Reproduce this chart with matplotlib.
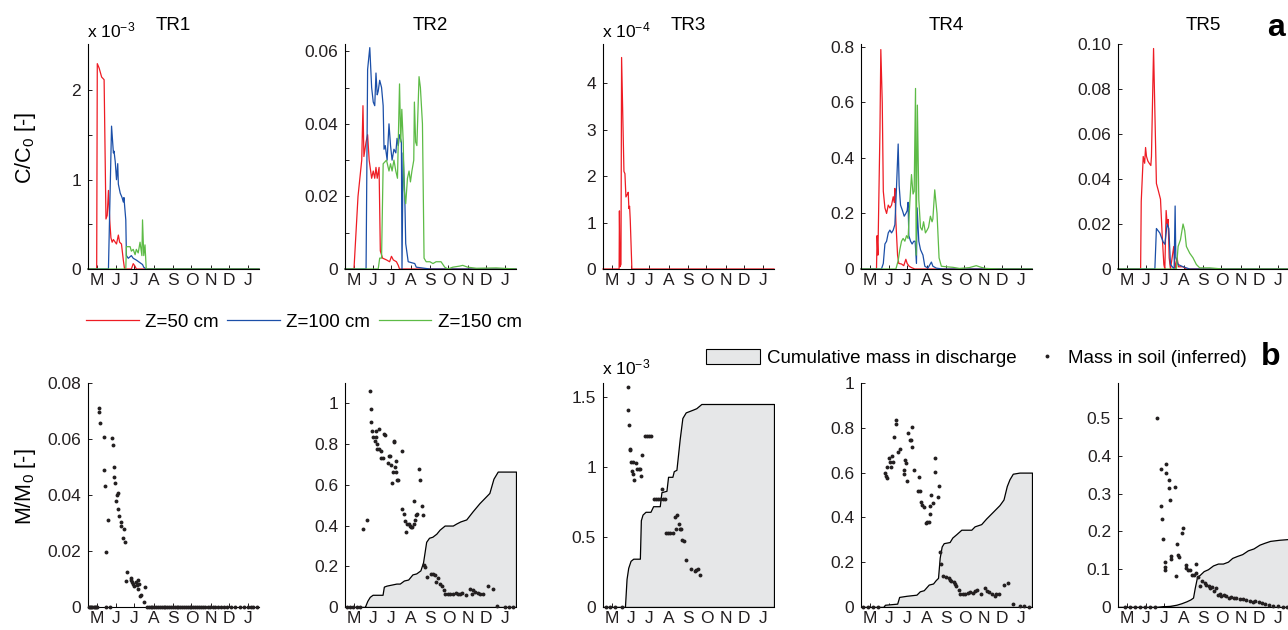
import matplotlib
matplotlib.use("Agg")
import matplotlib.pyplot as plt
from matplotlib.lines import Line2D
from matplotlib.patches import Patch

plt.rcParams['font.family'] = ['Liberation Sans', 'DejaVu Sans']
plt.rcParams['mathtext.fontset'] = 'custom'
plt.rcParams['mathtext.rm'] = 'Liberation Sans'
plt.rcParams['mathtext.it'] = 'Liberation Sans:italic'

# x axis: days since 1 May, labels on the 15th of each month
month_days = [14, 45, 75, 106, 137, 167, 198, 228, 259]
month_labels = ['M', 'J', 'J', 'A', 'S', 'O', 'N', 'D', 'J']
panel_names = ['TR1', 'TR2', 'TR3', 'TR4', 'TR5']
depth_labels = ['Z=50 cm', 'Z=100 cm', 'Z=150 cm']

# ---- row a: C/C0 breakthrough, (day, value) pairs ----
# TR1 in units of 1e-3
tr1_red = [(0, 0), (14, 0), (15, 2.3), (18, 2.25), (22, 2.15), (26, 2.12), (29, 0.56), (31, 0.6),
           (33, 0.88), (35, 0.55), (37, 0.35), (39, 0.3), (41, 0.33), (44, 0.3), (46, 0.28),
           (49, 0.38), (51, 0.3), (54, 0.28), (57, 0.1), (59, 0), (70, 0), (73, 0.06), (76, 0.03),
           (78, 0), (276, 0)]
tr1_blue = [(0, 0), (33, 0), (38, 1.6), (41, 1.3), (42, 1.32), (44, 1.2), (46, 1.0), (48, 1.18),
            (49, 0.95), (52, 0.85), (55, 0.8), (57, 0.75), (58, 0.8), (61, 0.55), (62, 0.15),
            (65, 0.12), (70, 0.15), (73, 0.12), (78, 0.1), (84, 0.07), (88, 0.05), (90, 0.02),
            (94, 0), (276, 0)]
tr1_green = [(0, 0), (61, 0), (62, 0.25), (68, 0.25), (70, 0.2), (73, 0.22), (76, 0.16), (78, 0.22),
             (81, 0.18), (84, 0.3), (87, 0.15), (88, 0.55), (90, 0.15), (92, 0.27), (94, 0), (276, 0)]

tr2_red = [(0, 0), (14.5, 0), (21, 0.02), (27, 0.03), (29, 0.045), (30.5, 0.031), (34, 0.035),
           (36.5, 0.037), (39, 0.03), (43, 0.025), (45.6, 0.027), (48, 0.025), (50, 0.028),
           (52, 0.025), (55, 0.028), (57, 0.005), (60.6, 0.003), (67, 0.0025), (72, 0.002),
           (75, 0.0035), (78, 0.0025), (83, 0.002), (86, 0.001), (88, 0), (276, 0)]
tr2_blue = [(0, 0), (34, 0), (36.5, 0.055), (40, 0.061), (43, 0.05), (45.6, 0.046), (48, 0.045),
            (50, 0.054), (52, 0.048), (53.6, 0.049), (56, 0.052), (59, 0.05), (61.6, 0.045),
            (63, 0.033), (65, 0.034), (68, 0.03), (71, 0.04), (73.5, 0.034), (76, 0.03), (79, 0.033),
            (82, 0.032), (84, 0.036), (86, 0.034), (88, 0.037), (91, 0.035), (92, 0.0), (93.8, 0.032),
            (96.5, 0.02), (98, 0.007), (102, 0.002), (112.6, 0.0015), (115, 0.0005), (137, 0), (276, 0)]
tr2_green = [(0, 0), (53.6, 0), (56, 0.003), (59, 0.003), (61.6, 0.029), (67, 0.03), (71, 0.027),
             (73.5, 0.029), (76, 0.027), (79, 0.03), (82, 0.027), (84.7, 0.025), (88, 0.051),
             (90, 0.035), (91.7, 0.044), (94, 0.035), (95.4, 0.022), (98, 0.018), (100.8, 0.025),
             (103.4, 0.027), (105.6, 0.024), (108, 0.027), (111, 0.03), (112, 0.046), (114, 0.035),
             (116, 0.034), (119.5, 0.053), (121.7, 0.05), (125, 0.04), (127.6, 0.003), (131, 0.002),
             (137, 0.002), (142, 0.0015), (147, 0.002), (155, 0.002), (161, 0.0005), (166, 0),
             (174, 0.0005), (185, 0.0008), (190, 0.001), (198, 0.0005), (212, 0.0002),
             (244, 0.0003), (276, 0)]

# TR3 in units of 1e-4
tr3_red = [(0, 0), (26, 0), (26.5, 1.25), (27.5, 0.05), (29, 0.1), (30, 4.55), (33.8, 2.1),
           (35.4, 2.05), (37, 1.55), (39, 1.6), (40.7, 1.65), (41.8, 1.3), (42.9, 1.35), (44, 1.05),
           (46.6, 0), (276, 0)]

tr4_red = [(0, 0), (25, 0), (26, 0.12), (27.3, 0.05), (30.6, 0.5), (32, 0.79), (34.3, 0.6),
           (36, 0.28), (38.6, 0.22), (41.3, 0.2), (44, 0.23), (46.6, 0.22), (49.3, 0.23), (52, 0.26),
           (53.6, 0.24), (54.7, 0.29), (56.3, 0.17), (59, 0.05), (61, 0.02), (65.4, 0.018),
           (69, 0.012), (72.4, 0.035), (74.5, 0.02), (77.7, 0.01), (81.5, 0.005), (86.8, 0), (276, 0)]
tr4_blue = [(0, 0), (33, 0), (36, 0.02), (38.6, 0.09), (41.3, 0.1), (44, 0.13), (46.6, 0.14),
            (49.3, 0.13), (52, 0.14), (54.7, 0.16), (57.4, 0.3), (60, 0.45), (61.6, 0.3),
            (63.8, 0.23), (67, 0.21), (69.7, 0.19), (72.4, 0.2), (74.5, 0.21), (76, 0.24),
            (77.2, 0.12), (80, 0.1), (82.5, 0.09), (85.2, 0.1), (87.4, 0.1), (89.5, 0.02),
            (90.6, 0.22), (93.3, 0.1), (96, 0.07), (100, 0.05), (103, 0.01), (108, 0.003),
            (113.6, 0.025), (116, 0.01), (121.7, 0.003), (132, 0), (276, 0)]
tr4_green = [(0, 0), (56.3, 0), (60, 0.03), (62.7, 0.07), (65.4, 0.1), (68, 0.11), (70.8, 0.1),
             (73.5, 0.12), (76, 0.11), (78.8, 0.24), (81.5, 0.34), (84, 0.27), (85.8, 0.28),
             (88, 0.65), (89, 0.05), (91, 0.59), (93.3, 0.25), (96, 0.15), (98.6, 0.14), (101, 0.17),
             (104, 0.13), (106.7, 0.14), (109, 0.15), (112, 0.19), (114.7, 0.17), (116, 0.18),
             (119, 0.285), (122.7, 0.2), (126, 0.04), (129.7, 0.01), (137.8, 0.008), (148.5, 0.006),
             (159, 0.002), (175, 0.005), (186, 0.012), (194, 0.006), (202, 0.002), (223.5, 0), (276, 0)]

tr5_red = [(0, 0), (36.5, 0), (37.5, 0.03), (40.7, 0.05), (43, 0.047), (44.5, 0.054), (46, 0.05),
           (48.2, 0.048), (50.4, 0.047), (53, 0.046), (54, 0.05), (57.4, 0.098), (59.5, 0.07),
           (62, 0.038), (64.9, 0.035), (68.6, 0.031), (71.3, 0.015), (74, 0.002), (75.6, 0),
           (77.7, 0.026), (79.3, 0.02), (81, 0.022), (82.6, 0.005), (84.7, 0), (90, 0.01),
           (92.2, 0), (95.4, 0.005), (97.6, 0.001), (105, 0.001), (110.4, 0), (276, 0)]
tr5_blue = [(0, 0), (59.5, 0), (62, 0.018), (67.5, 0.016), (72.9, 0.012), (75.6, 0.011),
            (79.3, 0.02), (82, 0.018), (84.7, 0.002), (90.6, 0), (92.2, 0.028), (93.3, 0.005),
            (97, 0.002), (105, 0.001), (115.8, 0), (276, 0)]
tr5_green = [(0, 0), (94.3, 0), (97, 0.01), (100.8, 0.013), (105, 0.02), (107.7, 0.017),
             (110.4, 0.01), (115.8, 0.007), (121, 0.005), (126.5, 0.002), (131.9, 0.0005),
             (148, 0.0005), (169, 0), (276, 0)]

# ---- row b: cumulative mass in discharge (fill) and mass in soil (dots) ----
cum_tr2 = [(0, 0), (32, 0), (36, 0.03), (40, 0.05), (44.5, 0.06), (60.6, 0.06), (62.7, 0.1),
           (67, 0.105), (75, 0.11), (83, 0.115), (88.4, 0.115), (95, 0.13), (102, 0.135),
           (108.8, 0.16), (115, 0.165), (121.7, 0.18), (126, 0.22), (131, 0.32), (135.6, 0.34),
           (141, 0.345), (147.4, 0.36), (152.8, 0.38), (160.8, 0.4), (174, 0.4), (179.6, 0.41),
           (186, 0.42), (195.7, 0.43), (206, 0.47), (217, 0.51), (233, 0.56), (239.6, 0.63),
           (246.5, 0.665), (276, 0.665)]
# TR3 in units of 1e-3
cum_tr3 = [(0, 0), (35.4, 0), (38, 0.2), (40.7, 0.28), (44.5, 0.33), (48.8, 0.345), (59.5, 0.345),
           (61.1, 0.62), (63.8, 0.66), (68.6, 0.68), (76.6, 0.68), (80.9, 0.72), (91.6, 0.72),
           (94.3, 0.82), (102.4, 0.83), (105, 0.93), (112, 0.93), (114.2, 0.97), (118.5, 0.98),
           (123.8, 1.2), (128.1, 1.35), (133.5, 1.39), (145.2, 1.41), (150.6, 1.42), (158.7, 1.45),
           (276, 1.45)]
cum_tr4 = [(0, 0), (36, 0), (38.6, 0.01), (46.6, 0.012), (58.4, 0.015), (61.6, 0.045), (73.5, 0.05),
           (89.5, 0.055), (94.9, 0.07), (101.3, 0.075), (109.3, 0.1), (116.3, 0.105), (120.6, 0.12),
           (124.3, 0.13), (127, 0.22), (130.2, 0.27), (133.5, 0.285), (143, 0.29), (147.4, 0.31),
           (153.8, 0.325), (161.9, 0.345), (178, 0.345), (183.3, 0.36), (194, 0.37), (202, 0.395),
           (212.8, 0.425), (223.5, 0.455), (230, 0.48), (235.3, 0.54), (239.6, 0.57), (245, 0.595),
           (255.7, 0.6), (276, 0.6)]
cum_tr5 = [(0, 0), (61.1, 0), (72.9, 0.002), (83.6, 0.003), (94.3, 0.006), (102.4, 0.01),
           (110.4, 0.015), (116.8, 0.02), (121.1, 0.025), (123.8, 0.05), (127.6, 0.08),
           (131.9, 0.085), (138.3, 0.095), (145.2, 0.1), (153.3, 0.11), (161.3, 0.115),
           (169.3, 0.115), (177.4, 0.12), (184.4, 0.13), (191.9, 0.135), (200.5, 0.14),
           (209.6, 0.15), (218.7, 0.155), (228.3, 0.165), (236.4, 0.17), (245.5, 0.175),
           (260.5, 0.178), (276, 0.18)]

soil_tr1 = [(1, 0), (3, 0), (5, 0), (7, 0), (9, 0), (11, 0), (13, 0), (15, 0), (17.7, 0.0711),
            (17.7, 0.0698), (19.8, 0.0656), (25.2, 0.0607), (25.7, 0.0489), (27.3, 0.0431),
            (28.9, 0.0195), (29, 0), (32.6, 0.0312), (35, 0), (39.1, 0.0604), (39.6, 0.0577),
            (42.3, 0.0499), (41.2, 0.0463), (43.4, 0.0443), (48.2, 0.0407), (47.1, 0.0399),
            (45.5, 0.0377), (48.8, 0.035), (50.4, 0.0324), (53.1, 0.0302), (53.6, 0.0288),
            (57.4, 0.0279), (56.3, 0.0248), (59.5, 0.0231), (62.2, 0.0124), (61.1, 0.0094),
            (68.6, 0.0102), (70.2, 0.0095), (71.8, 0.0088), (72.9, 0.0082), (75, 0.0076),
            (77.2, 0.0088), (79.3, 0.008), (81.5, 0.0098), (82.6, 0.0083), (80.9, 0.0064),
            (84.6, 0.004), (85.8, 0.0042), (92.2, 0.0071), (90.6, 0.0019), (95, 0), (98, 0),
            (101, 0), (104, 0), (107, 0), (110, 0), (113, 0), (116, 0), (119, 0), (122, 0),
            (125, 0), (128, 0), (131, 0), (134, 0), (137, 0), (140, 0), (143, 0), (146, 0),
            (149, 0), (152, 0), (155, 0), (158, 0), (161, 0), (164, 0), (167, 0), (170, 0),
            (173, 0), (176, 0), (179, 0), (182, 0), (185, 0), (189, 0), (193, 0), (197, 0),
            (201, 0), (205, 0), (210, 0), (215, 0), (220, 0), (225, 0), (231, 0), (237, 0),
            (245, 0), (252, 0), (259, 0), (263, 0), (267, 0), (272, 0)]
soil_tr2 = [(2.7, 0), (8, 0), (13.4, 0), (18.8, 0), (24, 0), (29.5, 0.382), (34.8, 0.426),
            (40.2, 1.062), (41.3, 0.972), (42.3, 0.91), (43.4, 0.866), (45.6, 0.836), (47.7, 0.816),
            (49.3, 0.862), (49.8, 0.836), (51.5, 0.8), (52, 0.775), (54.1, 0.774), (55.2, 0.872),
            (57.4, 0.766), (58.4, 0.73), (61.1, 0.73), (62.7, 0.852), (63.8, 0.844), (69.7, 0.708),
            (71.3, 0.741), (73.4, 0.741), (74.5, 0.697), (76.1, 0.61), (77.2, 0.662), (78.3, 0.81),
            (79.3, 0.813), (82, 0.715), (81.5, 0.689), (83.1, 0.662), (84.2, 0.623), (86.3, 0.623),
            (92.7, 0.764), (92.7, 0.479), (95.9, 0.456), (97, 0.42), (98, 0.369), (100.2, 0.407),
            (102.9, 0.41), (104.5, 0.397), (106.7, 0.393), (108.8, 0.393), (111, 0.407),
            (112, 0.52), (113, 0.426), (114.2, 0.454), (116.3, 0.459), (119.5, 0.677),
            (120.6, 0.623), (123.8, 0.498), (126, 0.452), (127, 0.208), (129.7, 0.197),
            (132.4, 0.148), (139.4, 0.164), (142, 0.161), (145.8, 0.159), (147.4, 0.125),
            (150.6, 0.144), (153.8, 0.115), (157, 0.102), (159.7, 0.082), (161.3, 0.066),
            (166.1, 0.066), (169.9, 0.066), (174.2, 0.066), (178.5, 0.069), (182.2, 0.062),
            (186, 0.066), (189.2, 0.07), (195.6, 0.057), (201, 0.09), (205.3, 0.066),
            (207.4, 0.085), (210.6, 0.074), (214.4, 0.069), (218.7, 0.066), (223.5, 0.062),
            (231.6, 0.102), (238.5, 0.087), (245.5, 0.005), (258.9, 0), (265.3, 0), (271.8, 0)]
# TR3 in units of 1e-3
soil_tr3 = [(5, 0), (12, 0), (20, 0), (30, 0), (40.7, 1.573), (40.7, 1.408), (41.8, 1.298),
            (42.9, 1.131), (43.4, 1.119), (45.5, 1.038), (47.2, 0.971), (48.8, 0.947),
            (49.8, 0.907), (48.2, 1.036), (53, 1.031), (55.2, 0.983), (57.4, 0.983), (60.1, 0.983),
            (61.1, 0.936), (62.2, 1.084), (68.1, 1.222), (71.3, 1.222), (74.5, 1.222),
            (77.8, 1.222), (82, 0.768), (85.2, 0.768), (88.4, 0.768), (92.7, 0.768), (95.9, 0.84),
            (97, 0.768), (100.2, 0.768), (102.4, 0.53), (105.6, 0.53), (108.8, 0.53),
            (113.1, 0.53), (115.8, 0.642), (119.5, 0.656), (118.5, 0.554), (122.2, 0.594),
            (123.8, 0.554), (126, 0.558), (128.1, 0.482), (130.2, 0.475), (133.5, 0.339),
            (141.5, 0.272), (147.9, 0.255), (150.6, 0.267), (153.8, 0.272), (156, 0.227)]
soil_tr4 = [(3.8, 0), (11.7, 0), (19.8, 0), (27.9, 0), (39.1, 0.597), (39.7, 0.585), (41.3, 0.578),
            (42.3, 0.627), (45.5, 0.664), (46.6, 0.649), (47.7, 0.627), (49.3, 0.675), (52, 0.649),
            (53.6, 0.761), (55.7, 0.836), (56.8, 0.818), (60, 0.69), (62.7, 0.704), (69.1, 0.612),
            (69.7, 0.593), (71.3, 0.657), (73.4, 0.642), (74.5, 0.564), (76.1, 0.776),
            (78.8, 0.746), (80.9, 0.746), (82, 0.803), (83.1, 0.716), (85.2, 0.612), (93.8, 0.579),
            (92.2, 0.519), (96, 0.519), (97.6, 0.47), (98.6, 0.454), (101.3, 0.448),
            (104.5, 0.376), (107.2, 0.381), (109.9, 0.379), (111.5, 0.413), (112, 0.451),
            (113.6, 0.5), (116.3, 0.466), (119, 0.664), (120, 0.604), (124.3, 0.493),
            (125.4, 0.542), (128.1, 0.246), (129.7, 0.19), (132.4, 0.139), (137.8, 0.134),
            (141.5, 0.131), (144.2, 0.122), (145.8, 0.116), (149.5, 0.112), (151.7, 0.101),
            (153.8, 0.093), (158.1, 0.075), (160.3, 0.057), (164.5, 0.06), (168.3, 0.06),
            (172.6, 0.064), (176.4, 0.067), (180.6, 0.064), (183.8, 0.072), (187, 0.078),
            (194, 0.06), (199.4, 0.087), (203.1, 0.072), (207.4, 0.067), (211.7, 0.06),
            (215.5, 0.048), (218.1, 0.06), (222.4, 0.057), (230, 0.097), (236.9, 0.109),
            (245, 0.012), (256.7, 0.005), (263.7, 0.003), (270.7, 0.002)]
soil_tr5 = [(11.3, 0), (19.3, 0), (27.3, 0), (35.4, 0), (43.4, 0), (51.5, 0), (59.5, 0),
            (63.3, 0.5), (69.1, 0.365), (70.2, 0.267), (71.3, 0.233), (72.4, 0.181), (75.6, 0.119),
            (76.6, 0.099), (76.6, 0.106), (78.2, 0.378), (78.2, 0.354), (82.6, 0.335),
            (82.6, 0.314), (84.7, 0.283), (86.3, 0.135), (86.3, 0.126), (91.6, 0.319),
            (93.3, 0.081), (96, 0.168), (97, 0.137), (98.6, 0.133), (103.4, 0.196), (105, 0.21),
            (109.3, 0.112), (110.4, 0.102), (113.1, 0.099), (115.8, 0.097), (120, 0.084),
            (122.7, 0.084), (126.5, 0.09), (125.4, 0.115), (129.2, 0.08), (131.9, 0.055),
            (136.1, 0.068), (139.9, 0.064), (142.6, 0.059), (146.9, 0.055), (149, 0.049),
            (152.2, 0.053), (154.4, 0.042), (157.6, 0.049), (161.3, 0.031), (164, 0.035),
            (166.7, 0.028), (170.4, 0.031), (174.7, 0.028), (179, 0.025), (182.8, 0.027),
            (187, 0.025), (190.8, 0.024), (196.2, 0.022), (201.5, 0.021), (206.9, 0.019),
            (212.3, 0.016), (217.6, 0.013), (221.9, 0.016), (227.3, 0.013), (232.6, 0.011),
            (238, 0.009), (243.4, 0.006), (249.8, 0.003), (257.8, 0.002), (265.9, 0.001),
            (272.3, 0.001)]

top_series = [(tr1_red, tr1_blue, tr1_green), (tr2_red, tr2_blue, tr2_green), (tr3_red, None, None),
              (tr4_red, tr4_blue, tr4_green), (tr5_red, tr5_blue, tr5_green)]
cum_series = [None, cum_tr2, cum_tr3, cum_tr4, cum_tr5]
soil_series = [soil_tr1, soil_tr2, soil_tr3, soil_tr4, soil_tr5]

top_ylim = [2.52, 0.062, 4.84, 0.81, 0.1]
top_yticks = [[0, 0.5, 1, 1.5, 2], [0, 0.01, 0.02, 0.03, 0.04, 0.05, 0.06], [0, 1, 2, 3, 4],
              [0, 0.2, 0.4, 0.6, 0.8], [0, 0.02, 0.04, 0.06, 0.08, 0.1]]
top_ylabels = [['0', '', '1', '', '2'], ['0', '', '0.02', '', '0.04', '', '0.06'],
               ['0', '1', '2', '3', '4'], ['0', '0.2', '0.4', '0.6', '0.8'],
               ['0', '0.02', '0.04', '0.06', '0.08', '0.10']]
bot_ylim = [0.08, 1.1, 1.6, 1.0, 0.593]
bot_yticks = [[0, 0.02, 0.04, 0.06, 0.08], [0, 0.2, 0.4, 0.6, 0.8, 1], [0, 0.5, 1, 1.5],
              [0, 0.2, 0.4, 0.6, 0.8, 1], [0, 0.1, 0.2, 0.3, 0.4, 0.5]]
bot_ylabels = [['0', '0.02', '0.04', '0.06', '0.08'], ['0', '0.2', '0.4', '0.6', '0.8', '1'],
               ['0', '0.5', '1', '1.5'], ['0', '0.2', '0.4', '0.6', '0.8', '1'],
               ['0', '0.1', '0.2', '0.3', '0.4', '0.5']]

colors = ['#ee1c24', '#1b4fa8', '#5dbb46']
fill_color = '#e6e7e8'
dot_color = '#231f20'
fs = 12.5
fs_leg = 13.5

W, H = 1288, 630
fig = plt.figure(figsize=(W / 100, H / 100), dpi=100)
lefts = [88, 345, 603, 861, 1118]


def style(ax, ymax, yticks, ylabels):
    ax.set_xlim(0, 276)
    ax.set_ylim(0, ymax)
    ax.set_xticks(month_days)
    ax.set_xticklabels(month_labels)
    ax.set_yticks(yticks)
    ax.set_yticklabels(ylabels)
    ax.spines['top'].set_visible(False)
    ax.spines['right'].set_visible(False)
    ax.spines['left'].set_linewidth(0.8)
    ax.spines['bottom'].set_linewidth(0.8)
    ax.tick_params(direction='in', length=3, width=0.7, labelsize=fs, colors='#231f20')
    ax.tick_params(axis='y', pad=5)
    ax.tick_params(axis='x', pad=3)
    ax.patch.set_alpha(0)


for i, left in enumerate(lefts):
    # row a
    ax = fig.add_axes([left / W, (H - 269) / H, 171 / W, 225 / H])
    for ser, c in zip(top_series[i], colors):
        if ser is None:
            continue
        d, v = zip(*ser)
        ax.plot(d, v, color=c, lw=0.9, clip_on=False)
    style(ax, top_ylim[i], top_yticks[i], top_ylabels[i])
    fig.text((left + 85.5) / W, 1 - 26 / H, panel_names[i], ha='center', va='center', fontsize=13.5)

    # row b
    ax = fig.add_axes([left / W, (H - 607) / H, 171 / W, 224 / H])
    if cum_series[i] is not None:
        d, v = zip(*cum_series[i])
        ax.fill_between(d, v, 0, facecolor=fill_color, edgecolor='k', lw=0.9, zorder=2)
    d, v = zip(*soil_series[i])
    ax.plot(d, v, 'o', ms=2.8, color=dot_color, mec='none', zorder=3, clip_on=False)
    style(ax, bot_ylim[i], bot_yticks[i], bot_ylabels[i])

# scale factors
fig.text(87 / W, 1 - 37 / H, r'x 10$^{-3}$', ha='left', va='baseline', fontsize=fs)
fig.text(602 / W, 1 - 37 / H, r'x 10$^{-4}$', ha='left', va='baseline', fontsize=fs)
fig.text(602 / W, 1 - 374 / H, r'x 10$^{-3}$', ha='left', va='baseline', fontsize=fs)

fig.text(26 / W, 1 - 148 / H, r'C/C$_\mathregular{0}$ [-]', rotation=90, ha='center', va='center',
         fontsize=15.5)
fig.text(26 / W, 1 - 487 / H, r'M/M$_\mathregular{0}$ [-]', rotation=90, ha='center', va='center',
         fontsize=15.5)

fig.text(1267 / W, 1 - 28 / H, 'a', fontweight='bold', fontsize=23, ha='left', va='center')
fig.text(1261 / W, 1 - 357 / H, 'b', fontweight='bold', fontsize=23, ha='left', va='center')

# legends
h_top = [Line2D([], [], color=c, lw=0.9) for c in colors]
fig.legend(h_top, depth_labels, ncol=3, loc='center left', bbox_to_anchor=(86 / W, 1 - 322 / H),
           frameon=False, fontsize=fs_leg, handlelength=2.8, handletextpad=0.35, columnspacing=0.45,
           borderaxespad=0, borderpad=0)
fig.legend([Patch(facecolor=fill_color, edgecolor='k', lw=0.8)], ['Cumulative mass in discharge'],
           loc='center left', bbox_to_anchor=(706 / W, 1 - 358 / H), frameon=False, fontsize=fs_leg,
           handlelength=2.9, handleheight=0.85, handletextpad=0.35,
           borderaxespad=0, borderpad=0)
fig.legend([Line2D([], [], ls='none', marker='o', ms=2.8, color=dot_color, mec='none')],
           ['Mass in soil (inferred)'], loc='center left', bbox_to_anchor=(1036 / W, 1 - 358 / H),
           frameon=False, fontsize=fs_leg, handlelength=1.2, handletextpad=0.5,
           borderaxespad=0, borderpad=0)

fig.savefig('out.png', dpi=100)
